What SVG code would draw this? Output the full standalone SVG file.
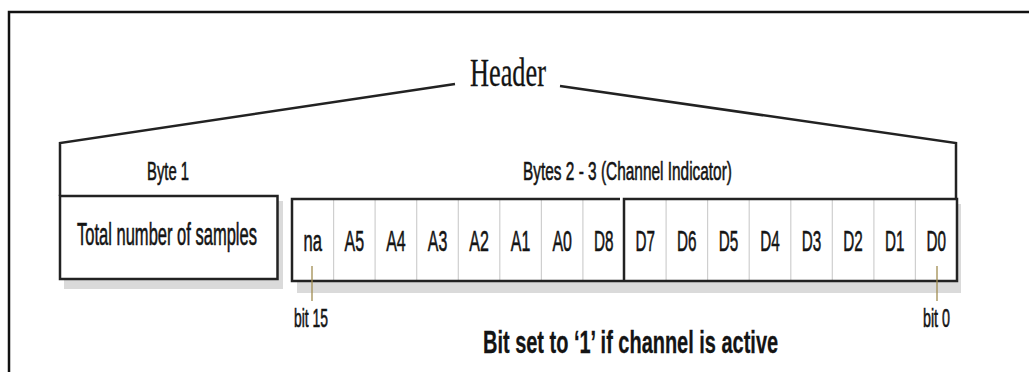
<svg xmlns="http://www.w3.org/2000/svg" width="1029" height="372" viewBox="0 0 1029 372">
  <style>
    .frame { fill: none; stroke: #111; stroke-width: 2.5; }
    .box { fill: #fff; stroke: #222; stroke-width: 2.5; }
    .shadow { fill: #dadada; stroke: none; }
    .div { stroke: #cfcfcf; stroke-width: 1.2; }
    .brace { fill: none; stroke: #222; stroke-width: 2.5; }
    .lead { stroke: #a08c50; stroke-width: 1.3; }
    .lbl { font-family: "Liberation Sans", Arial, sans-serif; fill: #141414; stroke: #141414; stroke-width: 0.6; }
    .cell { font-size: 30px; text-anchor: middle; }
    .title { font-family: "Liberation Serif", "Times New Roman", serif; font-size: 40px; fill: #141414; stroke: #141414; stroke-width: 0.3; }
    .note { font-size: 32px; font-weight: bold; stroke-width: 0.3; }
  </style>

  <!-- page frame (open on the right and bottom) -->
  <path class="frame" d="M9,372 V12 H1029"/>

  <g id="header">
    <text class="title" transform="translate(470 86) scale(0.66 1)" textLength="115" lengthAdjust="spacingAndGlyphs">Header</text>
  </g>

  <g id="byte1">
    <text class="lbl" transform="translate(147 180) scale(0.6 1)" font-size="25" textLength="70" lengthAdjust="spacingAndGlyphs">Byte 1</text>
    <rect class="shadow" x="64" y="201" width="219" height="88"/>
    <rect class="box" x="60" y="196" width="217.5" height="83"/>
    <text class="lbl" transform="translate(77 245) scale(0.53 1)" font-size="31" textLength="339.6" lengthAdjust="spacingAndGlyphs">Total number of samples</text>
  </g>

  <g id="channel-indicator">
    <text class="lbl" transform="translate(523 180) scale(0.64 1)" font-size="25" textLength="326.5" lengthAdjust="spacingAndGlyphs">Bytes 2 - 3 (Channel Indicator)</text>
    <rect class="shadow" x="297" y="204" width="664" height="89"/>
    <rect x="292" y="199" width="665" height="82" fill="#fff"/>
    <!-- cell dividers -->
    <g class="div">
      <line x1="333.6" y1="200" x2="333.6" y2="280"/>
      <line x1="375.1" y1="200" x2="375.1" y2="280"/>
      <line x1="416.7" y1="200" x2="416.7" y2="280"/>
      <line x1="458.3" y1="200" x2="458.3" y2="280"/>
      <line x1="499.8" y1="200" x2="499.8" y2="280"/>
      <line x1="541.4" y1="200" x2="541.4" y2="280"/>
      <line x1="582.9" y1="200" x2="582.9" y2="280"/>
      <line x1="666.1" y1="200" x2="666.1" y2="280"/>
      <line x1="707.6" y1="200" x2="707.6" y2="280"/>
      <line x1="749.2" y1="200" x2="749.2" y2="280"/>
      <line x1="790.8" y1="200" x2="790.8" y2="280"/>
      <line x1="832.3" y1="200" x2="832.3" y2="280"/>
      <line x1="873.9" y1="200" x2="873.9" y2="280"/>
      <line x1="915.4" y1="200" x2="915.4" y2="280"/>
    </g>
    <!-- byte outlines: high byte left, low byte right -->
    <path class="brace" d="M620,199 H292 V281 H957 V199 H624 V281"/>
    <g class="lbl cell">
      <text transform="translate(312.8 250.5) scale(0.55 1)" textLength="33.5" lengthAdjust="spacingAndGlyphs">na</text>
      <text transform="translate(354.3 250.5) scale(0.55 1)" textLength="35.5" lengthAdjust="spacingAndGlyphs">A5</text>
      <text transform="translate(395.9 250.5) scale(0.55 1)" textLength="35.5" lengthAdjust="spacingAndGlyphs">A4</text>
      <text transform="translate(437.5 250.5) scale(0.55 1)" textLength="35.5" lengthAdjust="spacingAndGlyphs">A3</text>
      <text transform="translate(479.0 250.5) scale(0.55 1)" textLength="35.5" lengthAdjust="spacingAndGlyphs">A2</text>
      <text transform="translate(520.6 250.5) scale(0.55 1)" textLength="35.5" lengthAdjust="spacingAndGlyphs">A1</text>
      <text transform="translate(562.2 250.5) scale(0.55 1)" textLength="35.5" lengthAdjust="spacingAndGlyphs">A0</text>
      <text transform="translate(603.7 250.5) scale(0.55 1)" textLength="35.5" lengthAdjust="spacingAndGlyphs">D8</text>
      <text transform="translate(645.3 250.5) scale(0.55 1)" textLength="35.5" lengthAdjust="spacingAndGlyphs">D7</text>
      <text transform="translate(686.8 250.5) scale(0.55 1)" textLength="35.5" lengthAdjust="spacingAndGlyphs">D6</text>
      <text transform="translate(728.4 250.5) scale(0.55 1)" textLength="35.5" lengthAdjust="spacingAndGlyphs">D5</text>
      <text transform="translate(770.0 250.5) scale(0.55 1)" textLength="35.5" lengthAdjust="spacingAndGlyphs">D4</text>
      <text transform="translate(811.5 250.5) scale(0.55 1)" textLength="35.5" lengthAdjust="spacingAndGlyphs">D3</text>
      <text transform="translate(853.1 250.5) scale(0.55 1)" textLength="35.5" lengthAdjust="spacingAndGlyphs">D2</text>
      <text transform="translate(894.7 250.5) scale(0.55 1)" textLength="35.5" lengthAdjust="spacingAndGlyphs">D1</text>
      <text transform="translate(936.2 250.5) scale(0.55 1)" textLength="35.5" lengthAdjust="spacingAndGlyphs">D0</text>
    </g>
  </g>

  <g id="bit-labels">
    <text class="lbl" transform="translate(294 326.5) scale(0.56 1)" font-size="25" textLength="60.7" lengthAdjust="spacingAndGlyphs">bit 15</text>
    <text class="lbl" transform="translate(923 326.5) scale(0.57 1)" font-size="25" textLength="47.4" lengthAdjust="spacingAndGlyphs">bit 0</text>
  </g>

  <g id="note">
    <text class="lbl note" transform="translate(483 353) scale(0.62 1)" textLength="476" lengthAdjust="spacingAndGlyphs">Bit set to ‘1’ if channel is active</text>
  </g>

  <!-- header bracket and bit leaders -->
  <g id="connectors">
    <path class="brace" d="M60,196 V143 L455,84"/>
    <path class="brace" d="M560,86 L956,143 V199"/>
    <line class="lead" x1="312" y1="266" x2="312" y2="301"/>
    <line class="lead" x1="937" y1="266" x2="937" y2="301"/>
  </g>
</svg>
